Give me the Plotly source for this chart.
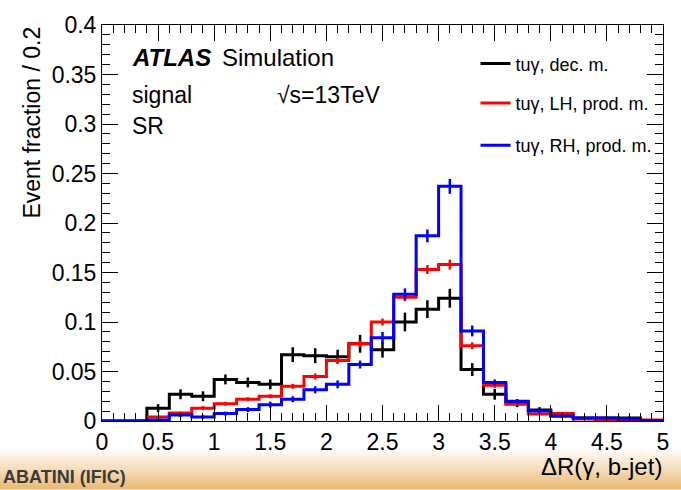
import plotly.graph_objects as go

# ---------------- data ----------------
bin_edges = [round(0.2 * i, 1) for i in range(26)]
bin_centers = [round(0.1 + 0.2 * i, 2) for i in range(25)]

dec_vals = [0, 0, 0.013, 0.027, 0.025, 0.042, 0.039, 0.037, 0.067, 0.066, 0.065,
            0.078, 0.072, 0.100, 0.113, 0.124, 0.052, 0.027, 0.018, 0.011, 0.005,
            0.003, 0.003, 0.003, 0.0005]
dec_err = [0, 0, 0.004, 0.005, 0.005, 0.005, 0.005, 0.005, 0.0075, 0.0075, 0.007,
           0.009, 0.008, 0.0095, 0.009, 0.0095, 0.0065, 0.0055, 0.004, 0.003, 0.002,
           0.0015, 0.0015, 0.0015, 0.0005]

lh_vals = [0, 0, 0.004, 0.008, 0.013, 0.0175, 0.022, 0.025, 0.035, 0.045, 0.061,
           0.078, 0.100, 0.125, 0.153, 0.158, 0.076, 0.036, 0.017, 0.007, 0.0075,
           0.002, 0.0015, 0.001, 0.001]
lh_err = [0, 0, 0.001, 0.0015, 0.002, 0.002, 0.002, 0.002, 0.0025, 0.003, 0.003,
          0.0035, 0.0035, 0.004, 0.0045, 0.005, 0.0035, 0.0025, 0.0015, 0.001, 0.001,
          0.0005, 0.0005, 0.0005, 0.0005]

rh_vals = [0, 0, 0.001, 0.006, 0.004, 0.0075, 0.0115, 0.0165, 0.022, 0.0315, 0.037,
           0.057, 0.084, 0.128, 0.187, 0.237, 0.091, 0.039, 0.020, 0.010, 0.005,
           0.003, 0.003, 0.002, 0.0005]
rh_err = [0, 0, 0.001, 0.002, 0.002, 0.002, 0.0025, 0.003, 0.003, 0.0035, 0.004,
          0.004, 0.006, 0.006, 0.0065, 0.0075, 0.0055, 0.003, 0.002, 0.0015, 0.001,
          0.001, 0.001, 0.001, 0.0005]

series_names = ["tuγ, dec. m.", "tuγ, LH, prod. m.", "tuγ, RH, prod. m."]
series_colors = ["#000000", "#ff0000", "#0000ff"]
y_ticks = [0, 0.05, 0.1, 0.15, 0.2, 0.25, 0.3, 0.35, 0.4]
y_ticklabels = ["0", "0.05", "0.1", "0.15", "0.2", "0.25", "0.3", "0.35", "0.4"]
x_ticks = [0, 0.5, 1, 1.5, 2, 2.5, 3, 3.5, 4, 4.5, 5]
x_ticklabels = ["0", "0.5", "1", "1.5", "2", "2.5", "3", "3.5", "4", "4.5", "5"]

# ---------------- geometry ----------------
W, H = 681, 490
L, R, T, B = 101.5, 14, 18.5, 69
PW = W - L - R
PH = H - T - B


def px(xp):
    return (xp - L) / PW


def py(yp):
    return (H - B - yp) / PH


FONT = "Liberation Sans, Arial, Helvetica, sans-serif"

fig = go.Figure()

legend_ids = ["legend", "legend2", "legend3"]
for vals, errs, name, col, lg in zip([dec_vals, lh_vals, rh_vals],
                                      [dec_err, lh_err, rh_err],
                                      series_names, series_colors, legend_ids):
    step_y = list(vals) + [vals[-1]]
    fig.add_trace(go.Scatter(
        x=bin_edges, y=step_y, mode="lines", line=dict(color=col, width=3, shape="hv"),
        name=name, legend=lg, showlegend=True, hoverinfo="skip"))
    fig.add_trace(go.Scatter(
        x=bin_centers, y=vals, mode="markers", marker=dict(size=0.1, color=col),
        error_y=dict(type="data", array=errs, visible=True, color=col, thickness=2.5, width=0),
        showlegend=False, name=name, hoverinfo="skip"))

# footer gradient band
nstrip = 20
y_top, y_bot = 448, 490
c0 = (255, 255, 255)
c1 = (234, 186, 118)
for i in range(nstrip):
    t = (i + 0.5) / nstrip
    col = tuple(int(round(c0[k] + (c1[k] - c0[k]) * t)) for k in range(3))
    ya = y_top + (y_bot - y_top) * i / nstrip
    yb = y_top + (y_bot - y_top) * (i + 1) / nstrip
    fig.add_shape(type="rect", xref="paper", yref="paper",
                  x0=px(-5), x1=px(W + 5), y0=py(yb + 0.5), y1=py(ya),
                  fillcolor="rgb(%d,%d,%d)" % col, line=dict(width=0), layer="below")

annotations = [
    dict(text="<b><i>ATLAS</i></b>", x=px(130), y=py(52), xanchor="left", yanchor="middle",
         font=dict(size=24, color="black", family=FONT)),
    dict(text="Simulation", x=px(220), y=py(52), xanchor="left", yanchor="middle",
         font=dict(size=24, color="black", family=FONT)),
    dict(text="signal", x=px(130), y=py(90), xanchor="left", yanchor="middle",
         font=dict(size=23, color="black", family=FONT)),
    dict(text="√s=13TeV", x=px(276), y=py(90), xanchor="left", yanchor="middle",
         font=dict(size=23, color="black", family=FONT)),
    dict(text="SR", x=px(130), y=py(121), xanchor="left", yanchor="middle",
         font=dict(size=23, color="black", family=FONT)),
    dict(text="Event fraction / 0.2", x=px(30), y=py(18), xanchor="center", yanchor="top",
         textangle=-90, font=dict(size=23, color="black", family=FONT)),
    dict(text="ΔR(γ, b-jet)", x=px(668), y=py(467), xanchor="right", yanchor="middle",
         font=dict(size=24, color="black", family=FONT)),
    dict(text="<b>ABATINI (IFIC)</b>", x=px(0), y=py(490), xanchor="left", yanchor="bottom",
         font=dict(size=18, color="#3a3a3a", family=FONT)),
]
for a in annotations:
    a.update(xref="paper", yref="paper", showarrow=False)

legend_rows = [58, 98, 141]
legends = {}
for lg, row in zip(legend_ids, legend_rows):
    legends[lg] = dict(x=px(478), y=py(row), xanchor="left", yanchor="middle",
                       bgcolor="rgba(0,0,0,0)", borderwidth=0,
                       font=dict(size=18, color="black", family=FONT),
                       itemwidth=30, tracegroupgap=0)

fig.update_layout(
    width=W, height=H,
    margin=dict(l=L, r=R, t=T, b=B, pad=0),
    paper_bgcolor="white", plot_bgcolor="white",
    font=dict(family=FONT, color="black"),
    annotations=annotations,
    **legends,
    xaxis=dict(range=[0, 5], tickvals=x_ticks, ticktext=x_ticklabels,
               ticks="inside", ticklen=16, tickwidth=1, tickcolor="black",
               minor=dict(dtick=0.1, ticks="inside", ticklen=8, tickcolor="black", tickwidth=1),
               showline=True, linecolor="black", linewidth=1, mirror="ticks",
               showgrid=False, zeroline=False,
               tickfont=dict(size=23, color="black", family=FONT)),
    yaxis=dict(range=[0, 0.4], tickvals=y_ticks, ticktext=y_ticklabels,
               ticks="inside", ticklen=16, tickwidth=1, tickcolor="black",
               minor=dict(dtick=0.01, ticks="inside", ticklen=8, tickcolor="black", tickwidth=1),
               showline=True, linecolor="black", linewidth=1, mirror="ticks",
               showgrid=False, zeroline=False,
               tickfont=dict(size=23, color="black", family=FONT)),
)

fig.write_html("out.html")
